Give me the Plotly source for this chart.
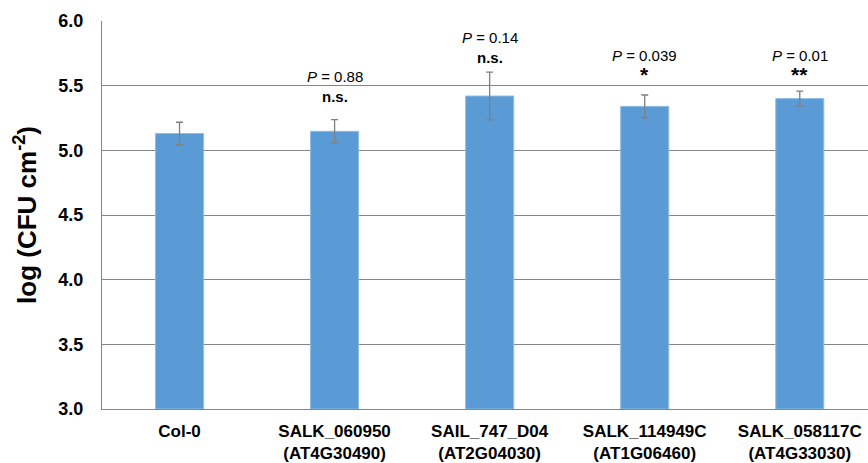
import plotly.graph_objects as go

categories = ["Col-0", "SALK_060950<br>(AT4G30490)", "SAIL_747_D04<br>(AT2G04030)",
              "SALK_114949C<br>(AT1G06460)", "SALK_058117C<br>(AT4G33030)"]
values = [5.13, 5.147, 5.42, 5.34, 5.40]
errors = [0.087, 0.09, 0.185, 0.088, 0.058]
p_labels = ["", "<i>P</i> = 0.88", "<i>P</i> = 0.14", "<i>P</i> = 0.039", "<i>P</i> = 0.01"]
sig_labels = ["", "n.s.", "n.s.", "*", "**"]
p_label_y = [None, 5.57, 5.875, 5.735, 5.735]
sig_label_y = [None, 5.415, 5.72, 5.585, 5.59]
y_ticks = [3.0, 3.5, 4.0, 4.5, 5.0, 5.5, 6.0]

x_idx = list(range(len(categories)))
FONT = "Arial, Liberation Sans, sans-serif"

fig = go.Figure()
fig.add_trace(go.Bar(
    x=x_idx, y=[v - 3.0 for v in values], base=3.0,
    width=0.31,
    marker=dict(color="#5B9BD5", line=dict(color="#8FBCE6", width=1)),
    error_y=dict(type="data", array=errors, color="#7F7F7F", thickness=1.3, width=3.5),
))

annotations = []
for i in x_idx:
    if p_labels[i]:
        annotations.append(dict(x=i, y=p_label_y[i], xref="x", yref="y", text=p_labels[i],
                                showarrow=False, font=dict(family=FONT, size=15, color="#000000")))
    if sig_labels[i]:
        sz = 21 if "*" in sig_labels[i] else 15
        annotations.append(dict(x=i, y=sig_label_y[i], xref="x", yref="y", text="<b>" + sig_labels[i] + "</b>",
                                showarrow=False, font=dict(family=FONT, size=sz, color="#000000")))

fig.update_layout(
    width=868, height=463,
    margin=dict(l=102, r=0, t=21, b=54),
    paper_bgcolor="white", plot_bgcolor="white",
    showlegend=False,
    font=dict(family=FONT, color="#000000"),
    annotations=annotations,
    xaxis=dict(
        range=[-0.5, 4.44],
        tickmode="array", tickvals=x_idx,
        ticktext=["<b>" + c.replace("<br>", "</b><br><b>") + "</b>" for c in categories],
        tickfont=dict(size=17, family=FONT, color="#000000"),
        showgrid=False, showline=True, linecolor="#868686", linewidth=1.3,
        ticks="", zeroline=False, ticklabelstandoff=6, automargin=False,
    ),
    yaxis=dict(
        range=[3.0, 6.0],
        tickmode="array", tickvals=y_ticks,
        ticktext=["<b>%.1f</b>" % t for t in y_ticks],
        tickfont=dict(size=18, family=FONT, color="#000000"),
        showgrid=True, gridcolor="#868686", gridwidth=1.3,
        showline=True, linecolor="#868686", linewidth=1.3,
        ticks="", ticklabelstandoff=14, zeroline=False, automargin=False,
        title=dict(text="<b>log (CFU cm<sup>-2</sup>)</b>", font=dict(size=26, family=FONT), standoff=14),
    ),
)

fig.write_html("out.html", config={"displayModeBar": False},
               post_script="document.body.style.margin='0';document.body.style.padding='0';")
